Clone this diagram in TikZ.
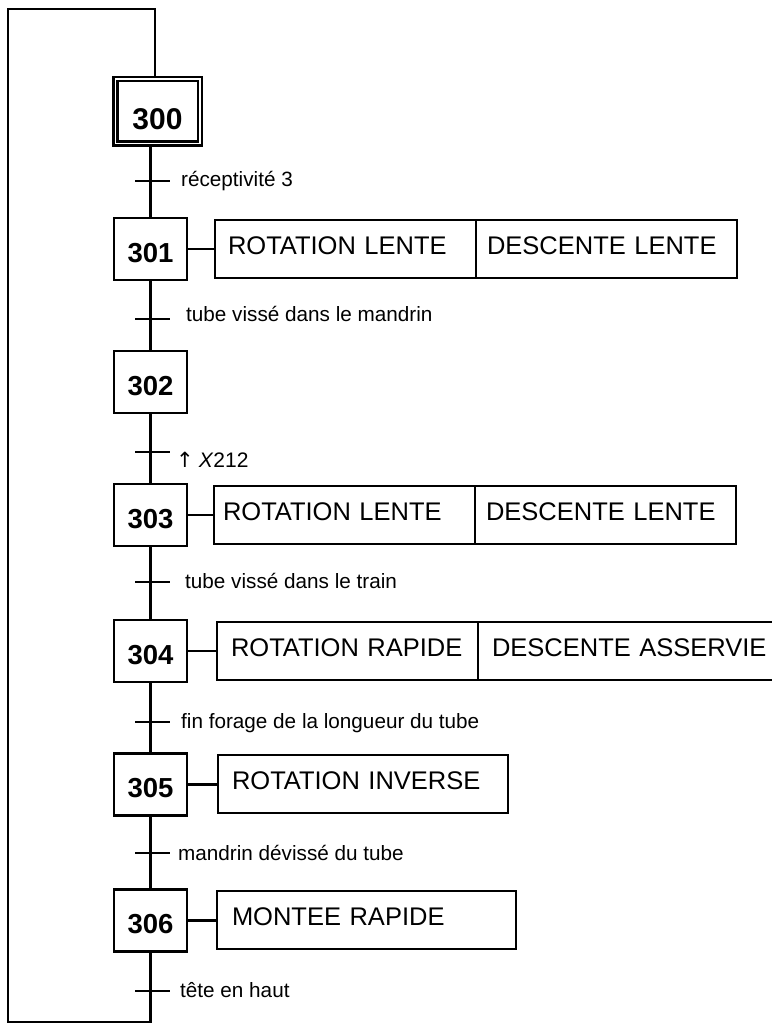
\documentclass[tikz,border=0pt]{standalone}
\usepackage{fontspec}
\setmainfont{Liberation Sans}
\newfontfamily\symfont{DejaVu Sans}
\usetikzlibrary{calc}
\begin{document}
\begin{tikzpicture}[x=1pt,y=-1pt,
  ln/.style={line width=2.2pt},
  stepbox/.style={draw, line width=2.2pt, outer sep=0pt, minimum width=73pt, minimum height=62pt, inner sep=0pt, font=\fontsize{27.5}{30}\selectfont\bfseries, text height=26.7pt, text depth=0pt},
  initbox/.style={draw, line width=2.5pt, double=white, double distance=1.5pt, outer sep=3.25pt, minimum width=84.5pt, minimum height=64.5pt, inner sep=0pt, font=\fontsize{30}{33}\selectfont\bfseries, text height=35.5pt, text depth=0pt},
  act/.style={draw, line width=2.2pt, outer sep=0pt, anchor=west, minimum height=58pt, inner ysep=0pt, align=left, font=\fontsize{25.5}{28}\selectfont, text height=18.5pt, text depth=7.2pt},
  lbl/.style={anchor=base west, inner sep=0pt, font=\fontsize{20.7}{24}\selectfont},
  tick/.style={line width=2.2pt}]
\useasboundingbox (0,0) rectangle (771,1024);

% steps
\node[initbox] (s300) at (157.5,111.5) {300};
\node[stepbox] (s301) at (150.5,249) {301};
\node[stepbox] (s302) at (150.5,382) {302};
\node[stepbox] (s303) at (150.5,515) {303};
\node[stepbox] (s304) at (150.5,651) {304};
\node[stepbox] (s305) at (150.5,784.5) {305};
\node[stepbox] (s306) at (150.5,920.5) {306};

% actions
\node[act, inner xsep=13pt, text width=235pt] (a301a) at (215,249) {ROTATION LENTE};
\node[act, inner xsep=11pt, text width=239pt] (a301b) at (476,249) {DESCENTE LENTE};
\node[act, inner xsep=9pt, text width=243pt] (a303a) at (214,515) {ROTATION LENTE};
\node[act, inner xsep=11pt, text width=239pt] (a303b) at (475,515) {DESCENTE LENTE};
\node[act, inner xsep=14pt, text width=233pt] (a304a) at (217,651) {ROTATION RAPIDE};
\node[act, inner xsep=14pt, text width=292pt] (a304b) at (478,651) {DESCENTE ASSERVIE};
\node[act, inner xsep=14pt, text width=262pt] (a305) at (218,784) {ROTATION INVERSE};
\node[act, inner xsep=15pt, text width=269pt] (a306) at (217,920) {MONTEE RAPIDE};

% links step -> action
\draw[ln] (s301.east) -- (s301.east -| a301a.west);
\draw[ln] (s303.east) -- (s303.east -| a303a.west);
\draw[ln] (s304.east) -- (s304.east -| a304a.west);
\draw[ln] (s305.east) -- (s305.east -| a305.west);
\draw[ln] (s306.east) -- (s306.east -| a306.west);

% main links
\draw[ln] (s300.south -| s301.north) -- (s301.north);
\draw[ln] (s301.south) -- (s302.north);
\draw[ln] (s302.south) -- (s303.north);
\draw[ln] (s303.south) -- (s304.north);
\draw[ln] (s304.south) -- (s305.north);
\draw[ln] (s305.south) -- (s306.north);

% loop back
\coordinate (c1) at (150.5,1022);
\coordinate (c2) at (8,1022);
\coordinate (c3) at (8,9);
\coordinate (c4) at (155,9);
\draw[ln] (s306.south) -- (c1) -- (c2) -- (c3) -- (c4) -- (c4 |- s300.north);

% transitions
\coordinate (t1) at (150.5,181);
\coordinate (t2) at (150.5,319);
\coordinate (t3) at (150.5,452);
\coordinate (t4) at (150.5,582);
\coordinate (t5) at (150.5,722);
\coordinate (t6) at (150.5,853);
\coordinate (t7) at (150.5,991);
\foreach \t in {t1,t2,t3,t4,t5,t6,t7}
  \draw[tick] ([xshift=-15.5pt]\t) -- ([xshift=19.5pt]\t);

% receptivities
\node[lbl] (l1) at (181,187) {réceptivité 3};
\node[lbl] (l2) at (186,321) {tube vissé dans le mandrin};
\node[lbl, font=\fontsize{21}{24}\selectfont] (l3) at (176,467) {{\symfont\fontsize{21}{24}\selectfont ↑}\hspace{5pt}\textit{X}212};
\node[lbl] (l4) at (185,588) {tube vissé dans le train};
\node[lbl] (l5) at (181,728) {fin forage de la longueur du tube};
\node[lbl] (l6) at (178,860) {mandrin dévissé du tube};
\node[lbl] (l7) at (180,997) {tête en haut};
\end{tikzpicture}
\end{document}
